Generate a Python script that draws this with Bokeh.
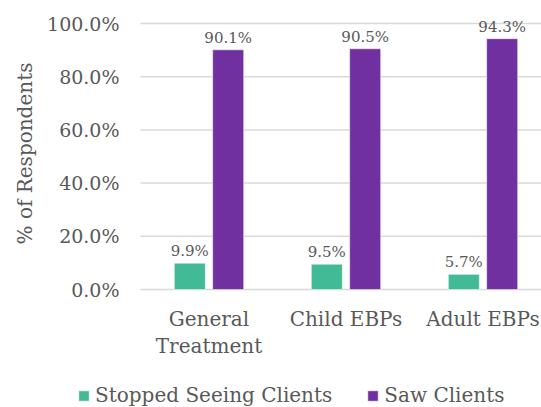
import math
from bokeh.plotting import figure
from bokeh.models import ColumnDataSource, Range1d, Legend, LegendItem, LabelSet, Label
from bokeh.core.properties import value
from bokeh.transform import dodge
from bokeh.embed import file_html
from bokeh.resources import INLINE

categories = ["General\nTreatment", "Child EBPs", "Adult EBPs"]
stopped = [0.099, 0.095, 0.057]
saw = [0.901, 0.905, 0.943]
series_names = ["Stopped Seeing Clients", "Saw Clients"]
colors = ["#43BA96", "#7030A0"]
y_ticks = [0.0, 0.2, 0.4, 0.6, 0.8, 1.0]
y_tick_labels = ["0.0%", "20.0%", "40.0%", "60.0%", "80.0%", "100.0%"]
y_title = "% of Respondents"

FONT = "DejaVu Serif"
GRAY = "#595959"
GRID = "#D9D9D9"

# pixel geometry (the frame spans the whole canvas)
W, H = 541, 407
PX_LEFT, PX_ZERO, PX_UNIT_X, PX_UNIT_Y = 140, 289, 137, 266

def px_x(d):
    return d / PX_UNIT_X

def px_y(d):
    return d / PX_UNIT_Y

xs = [i + 0.5 for i in range(len(categories))]
src = ColumnDataSource(dict(
    x=xs, stopped=stopped, saw=saw,
    stopped_lbl=[f"{v*100:.1f}%" for v in stopped],
    saw_lbl=[f"{v*100:.1f}%" for v in saw],
))
tick_src = ColumnDataSource(dict(
    y=y_ticks, lbl=y_tick_labels, x0=[0.0] * len(y_ticks),
    x1=[float(len(categories))] * len(y_ticks)))

# category labels, one row per text line (each centered)
cx, cy, ct = [], [], []
for x, c in zip(xs, categories):
    for i, line in enumerate(c.split("\n")):
        cx.append(x)
        cy.append(-px_y(36 + 27 * i))
        ct.append(line)
cat_src = ColumnDataSource(dict(x=cx, y=cy, text=ct))

p = figure(width=W, height=H, output_backend="svg", toolbar_location=None,
           x_range=Range1d(-px_x(PX_LEFT), px_x(W - PX_LEFT)),
           y_range=Range1d(-px_y(H - PX_ZERO), px_y(PX_ZERO)),
           min_border=0)
p.outline_line_color = None
p.background_fill_color = "white"
p.axis.visible = False
p.grid.visible = False

# grid lines
p.segment(x0="x0", x1="x1", y0="y", y1="y", source=tick_src,
          line_color=GRID, line_width=1.5)

off = 0.14
bw = px_x(31)
r1 = p.vbar(x=dodge("x", -off, range=p.x_range), top="stopped", width=bw, source=src,
            fill_color=colors[0], line_color="white", line_width=0.5)
r2 = p.vbar(x=dodge("x", off, range=p.x_range), top="saw", width=bw, source=src,
            fill_color=colors[1], line_color="white", line_width=0.5)

# value labels
for col, lbl, o in (("stopped", "stopped_lbl", -off), ("saw", "saw_lbl", off)):
    p.add_layout(LabelSet(x=dodge("x", o, range=p.x_range), y=col, text=lbl, source=src,
                          text_align="center", text_baseline="alphabetic", y_offset=7,
                          text_font=value(FONT), text_font_size=value("15px"),
                          text_color=GRAY))

# y tick labels
p.add_layout(LabelSet(x="x0", y="y", text="lbl", source=tick_src, x_offset=-21,
                      text_align="right", text_baseline="middle",
                      text_font=value(FONT), text_font_size=value("19px"),
                      text_color=GRAY))

# category labels
p.add_layout(LabelSet(x="x", y="y", text="text", source=cat_src,
                      text_align="center", text_baseline="alphabetic",
                      text_font=value(FONT), text_font_size=value("20px"),
                      text_color=GRAY))

# y axis title
p.add_layout(Label(x=-px_x(PX_LEFT - 24), y=px_y(PX_ZERO - 153), text=y_title,
                   angle=math.pi / 2, text_align="center", text_baseline="middle",
                   text_font=FONT, text_font_size="20px", text_color=GRAY))

legend = Legend(items=[LegendItem(label=series_names[0], renderers=[r1]),
                       LegendItem(label=series_names[1], renderers=[r2])],
                orientation="horizontal", location=(77, 0),
                border_line_color=None, background_fill_alpha=0,
                padding=0, margin=0, spacing=34, label_standoff=5,
                glyph_width=13, glyph_height=13,
                label_text_font=FONT, label_text_font_size="20px",
                label_text_color=GRAY)
p.add_layout(legend)

open("out.html", "w").write(file_html(p, INLINE))
